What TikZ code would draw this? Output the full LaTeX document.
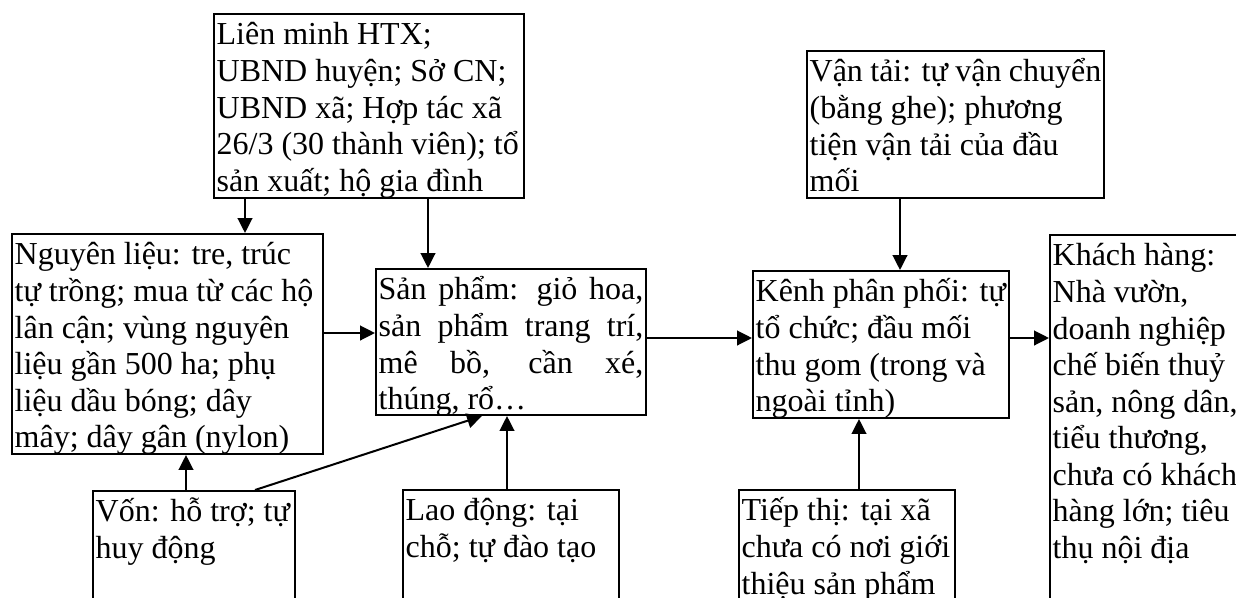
\documentclass[tikz,border=0pt]{standalone}
\usepackage{fontspec}
\setmainfont{Liberation Serif}
\usetikzlibrary{arrows.meta}
\newcommand\bxtext[3]{\parbox[t][#2][t]{#1}{\raggedright\lineskiplimit=-100pt\rule{0pt}{11.6pt}#3}}
\newcommand\jline[1]{\makebox[\linewidth][s]{#1}}
\begin{document}
\begin{tikzpicture}[x=0.375pt,y=-0.375pt,
  box/.style={draw, line width=0.75pt, anchor=north west, inner xsep=1pt, inner ysep=0pt,
    font=\fontsize{12pt}{13.7pt}\selectfont},
  arr/.style={line width=0.75pt, -{Triangle[length=5.6pt,width=5.5pt]}}]
\useasboundingbox (0,0) rectangle (1236,597);
\clip (0,0) rectangle (1236,597);
\fill[white] (0,0) rectangle (1236,597);

\node[box] (top) at (213,13) {\bxtext{114.25pt}{69pt}{Liên minh HTX;\\UBND huyện; Sở CN;\\UBND xã; Hợp tác xã\\26/3 (30 thành viên); tổ\\sản xuất; hộ gia đình}};

\node[box] (nl) at (11,233) {\bxtext{114.625pt}{82.5pt}{Nguyên liệu: tre, trúc\\tự trồng; mua từ các hộ\\lân cận; vùng nguyên\\liệu gần 500 ha; phụ\\liệu dầu bóng; dây\\mây; dây gân (nylon)}};

\node[box] (sp) at (375,268) {\bxtext{99.25pt}{54.75pt}{\jline{Sản phẩm: giỏ hoa,}\\\jline{sản phẩm trang trí,}\\\jline{mê bồ, cần xé,}\\thúng, rổ…}};

\node[box] (kp) at (752,270) {\bxtext{94pt}{55.125pt}{Kênh phân phối: tự\\tổ chức; đầu mối\\thu gom (trong và\\ngoài tỉnh)}};

\node[box] (vt) at (806,50) {\bxtext{109.375pt}{55.125pt}{Vận tải: tự vận chuyển\\(bằng ghe); phương\\tiện vận tải của đầu\\mối}};

\node[box] (kh) at (1049,234) {\bxtext{76.75pt}{157.5pt}{Khách hàng:\\Nhà vườn,\\doanh nghiệp\\chế biến thuỷ\\sản, nông dân,\\tiểu thương,\\chưa có khách\\hàng lớn; tiêu\\thụ nội địa}};

\node[box] (von) at (92,490) {\bxtext{73.75pt}{60pt}{Vốn: hỗ trợ; tự\\huy động}};

\node[box] (ld) at (402,489) {\bxtext{79pt}{60pt}{Lao động: tại\\chỗ; tự đào tạo}};

\node[box] (tt) at (738,489) {\bxtext{79pt}{60pt}{Tiếp thị: tại xã\\chưa có nơi giới\\thiệu sản phẩm}};

\draw[arr] (245,0 |- top.south) -- (245,0 |- nl.north);
\draw[arr] (428,0 |- top.south) -- (428,0 |- sp.north);
\draw[arr] (0,333 -| nl.east) -- (0,333 -| sp.west);
\draw[arr] (0,338 -| sp.east) -- (0,338 -| kp.west);
\draw[arr] (900,0 |- vt.south) -- (900,0 |- kp.north);
\draw[arr] (0,338 -| kp.east) -- (0,338 -| kh.west);
\draw[arr] (186,0 |- von.north) -- (186,0 |- nl.south);
\draw[arr] (255,0 |- von.north) -- (482,0 |- sp.south);
\draw[arr] (507,0 |- ld.north) -- (507,0 |- sp.south);
\draw[arr] (859,0 |- tt.north) -- (859,0 |- kp.south);
\end{tikzpicture}
\end{document}
